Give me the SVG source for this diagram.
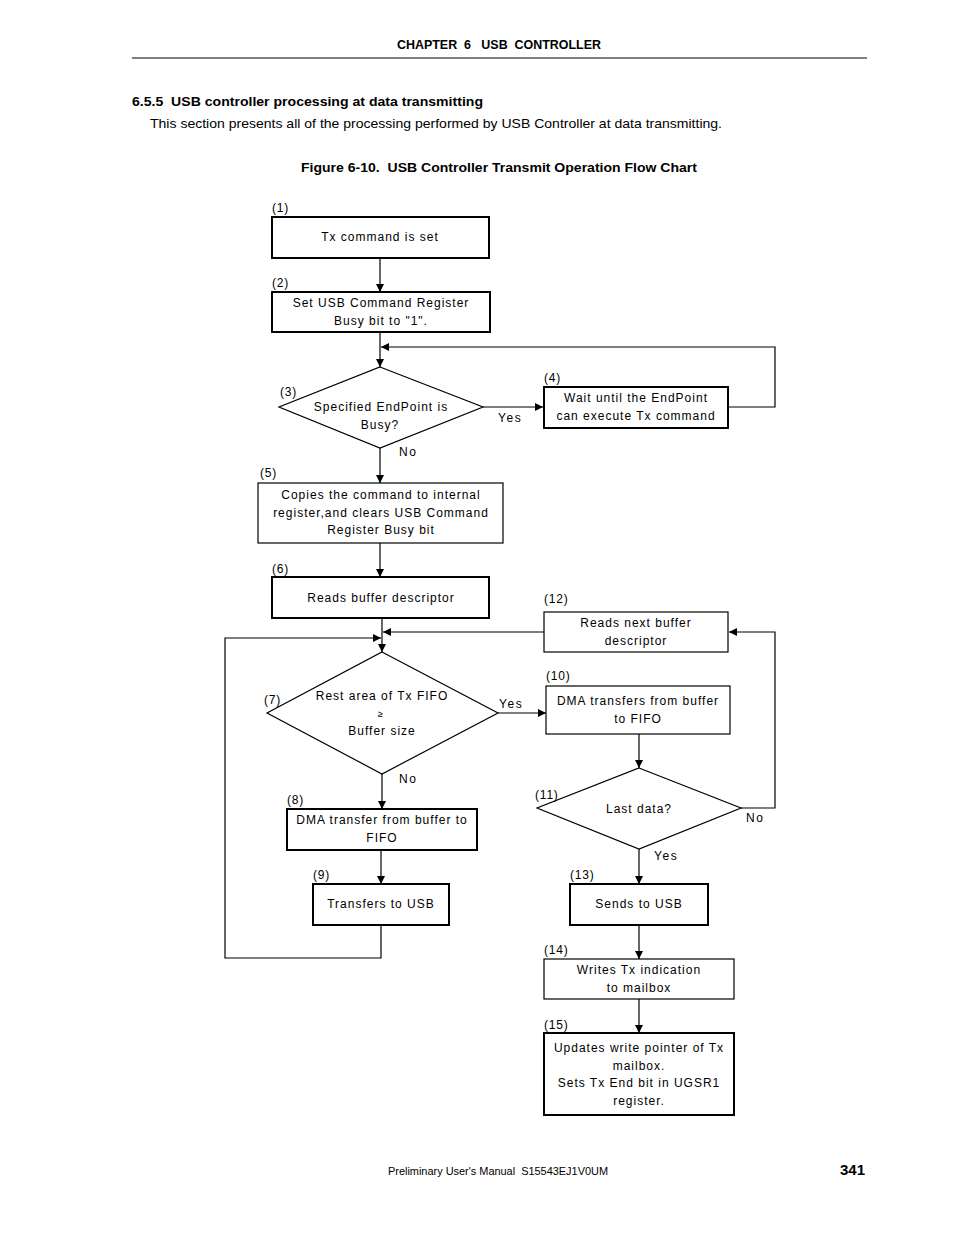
<svg xmlns="http://www.w3.org/2000/svg" width="954" height="1235" viewBox="0 0 954 1235">
<style>
.bg{fill:#fff}
.hd{font-family:"Liberation Sans",Arial,sans-serif;fill:#000;white-space:pre}
.t{font-family:"Liberation Sans",Arial,sans-serif;font-size:12px;letter-spacing:1px;fill:#000;text-anchor:middle}
.n{font-family:"Liberation Sans",Arial,sans-serif;font-size:12px;letter-spacing:0.8px;fill:#000}
.y{font-family:"Liberation Sans",Arial,sans-serif;font-size:12px;letter-spacing:1.6px;fill:#000}
.b1{fill:#fff;stroke:#000;stroke-width:1.2}
.b2{fill:#fff;stroke:#000;stroke-width:2}
.c{fill:none;stroke:#000;stroke-width:1.2}
</style>
<defs>
<marker id="ah" viewBox="0 0 10 10" refX="10" refY="5" markerWidth="8" markerHeight="8" markerUnits="userSpaceOnUse" orient="auto">
<path d="M0,0 L10,5 L0,10 z" fill="#000"/>
</marker>
</defs>
<rect class="bg" x="0" y="0" width="954" height="1235"/>
<g id="header">
<text class="hd" x="499" y="49" font-size="12" font-weight="bold" text-anchor="middle" textLength="204" lengthAdjust="spacingAndGlyphs" xml:space="preserve">CHAPTER  6   USB  CONTROLLER</text>
<line x1="132" y1="58" x2="867" y2="58" stroke="#000" stroke-width="1"/>
<text class="hd" x="132" y="106" font-size="13" font-weight="bold" textLength="351" lengthAdjust="spacingAndGlyphs" xml:space="preserve">6.5.5  USB controller processing at data transmitting</text>
<text class="hd" x="150" y="128" font-size="13.5" textLength="572" lengthAdjust="spacingAndGlyphs">This section presents all of the processing performed by USB Controller at data transmitting.</text>
<text class="hd" x="301" y="172" font-size="13.5" font-weight="bold" textLength="396" lengthAdjust="spacingAndGlyphs" xml:space="preserve">Figure 6-10.  USB Controller Transmit Operation Flow Chart</text>
</g>
<g id="connectors">
<line class="c" x1="380" y1="258" x2="380" y2="292" marker-end="url(#ah)"/>
<line class="c" x1="380" y1="332" x2="380" y2="367" marker-end="url(#ah)"/>
<polyline class="c" points="728,407 775,407 775,347 381,347" marker-end="url(#ah)"/>
<line class="c" x1="483" y1="407" x2="543" y2="407" marker-end="url(#ah)"/>
<line class="c" x1="380" y1="448" x2="380" y2="483" marker-end="url(#ah)"/>
<line class="c" x1="380" y1="543" x2="380" y2="577" marker-end="url(#ah)"/>
<line class="c" x1="382" y1="618" x2="382" y2="652" marker-end="url(#ah)"/>
<line class="c" x1="544" y1="632" x2="383" y2="632" marker-end="url(#ah)"/>
<polyline class="c" points="381,925 381,958 225,958 225,638 381,638" marker-end="url(#ah)"/>
<line class="c" x1="498" y1="713" x2="546" y2="713" marker-end="url(#ah)"/>
<line class="c" x1="382" y1="774" x2="382" y2="809" marker-end="url(#ah)"/>
<line class="c" x1="381" y1="850" x2="381" y2="884" marker-end="url(#ah)"/>
<line class="c" x1="639" y1="734" x2="639" y2="768" marker-end="url(#ah)"/>
<polyline class="c" points="741,808 775,808 775,632 729,632" marker-end="url(#ah)"/>
<line class="c" x1="639" y1="849" x2="639" y2="884" marker-end="url(#ah)"/>
<line class="c" x1="639" y1="925" x2="639" y2="959" marker-end="url(#ah)"/>
<line class="c" x1="639" y1="999" x2="639" y2="1033" marker-end="url(#ah)"/>
<text class="y" x="498" y="422">Yes</text>
<text class="y" x="399" y="456">No</text>
<text class="y" x="499" y="708">Yes</text>
<text class="y" x="399" y="783">No</text>
<text class="y" x="746" y="822">No</text>
<text class="y" x="654" y="860">Yes</text>
</g>
<g id="n1">
<rect class="b2" x="272" y="217" width="217" height="41"/>
<text class="n" x="272" y="212">(1)</text>
<text class="t" x="380" y="241">Tx command is set</text>
</g>
<g id="n2">
<rect class="b2" x="272" y="292" width="218" height="40"/>
<text class="n" x="272" y="287">(2)</text>
<text class="t" x="381" y="307">Set USB Command Register</text>
<text class="t" x="381" y="325">Busy bit to "1".</text>
</g>
<g id="n3">
<polygon class="b1" points="380,367 483,407 380,448 279,407"/>
<text class="n" x="280" y="396">(3)</text>
<text class="t" x="381" y="411">Specified EndPoint is</text>
<text class="t" x="380" y="429">Busy?</text>
</g>
<g id="n4">
<rect class="b2" x="544" y="387" width="184" height="41"/>
<text class="n" x="544" y="382">(4)</text>
<text class="t" x="636" y="402">Wait until the EndPoint</text>
<text class="t" x="636" y="420">can execute Tx command</text>
</g>
<g id="n5">
<rect class="b1" x="258" y="483" width="245" height="60"/>
<text class="n" x="260" y="477">(5)</text>
<text class="t" x="381" y="499">Copies the command to internal</text>
<text class="t" x="381" y="517">register,and clears USB Command</text>
<text class="t" x="381" y="534">Register Busy bit</text>
</g>
<g id="n6">
<rect class="b2" x="272" y="577" width="217" height="41"/>
<text class="n" x="272" y="573">(6)</text>
<text class="t" x="381" y="602">Reads buffer descriptor</text>
</g>
<g id="n12">
<rect class="b1" x="544" y="612" width="184" height="40"/>
<text class="n" x="544" y="603">(12)</text>
<text class="t" x="636" y="627">Reads next buffer</text>
<text class="t" x="636" y="645">descriptor</text>
</g>
<g id="n7">
<polygon class="b1" points="382,652 498,713 382,774 267,713"/>
<text class="n" x="264" y="704">(7)</text>
<text class="t" x="382" y="700">Rest area of Tx FIFO</text>
<text class="t" x="381" y="717" style="font-size:9px">≥</text>
<text class="t" x="382" y="735">Buffer size</text>
</g>
<g id="n10">
<rect class="b1" x="546" y="686" width="184" height="48"/>
<text class="n" x="546" y="680">(10)</text>
<text class="t" x="638" y="705">DMA transfers from buffer</text>
<text class="t" x="638" y="723">to FIFO</text>
</g>
<g id="n11">
<polygon class="b1" points="639,768 741,808 639,849 537,808"/>
<text class="n" x="535" y="799">(11)</text>
<text class="t" x="639" y="813">Last data?</text>
</g>
<g id="n8">
<rect class="b2" x="287" y="809" width="190" height="41"/>
<text class="n" x="287" y="804">(8)</text>
<text class="t" x="382" y="824">DMA transfer from buffer to</text>
<text class="t" x="382" y="842">FIFO</text>
</g>
<g id="n9">
<rect class="b2" x="313" y="884" width="136" height="41"/>
<text class="n" x="313" y="879">(9)</text>
<text class="t" x="381" y="908">Transfers to USB</text>
</g>
<g id="n13">
<rect class="b2" x="570" y="884" width="138" height="41"/>
<text class="n" x="570" y="879">(13)</text>
<text class="t" x="639" y="908">Sends to USB</text>
</g>
<g id="n14">
<rect class="b1" x="544" y="959" width="190" height="40"/>
<text class="n" x="544" y="954">(14)</text>
<text class="t" x="639" y="974">Writes Tx indication</text>
<text class="t" x="639" y="992">to mailbox</text>
</g>
<g id="n15">
<rect class="b2" x="544" y="1033" width="190" height="82"/>
<text class="n" x="544" y="1029">(15)</text>
<text class="t" x="639" y="1052">Updates write pointer of Tx</text>
<text class="t" x="639" y="1070">mailbox.</text>
<text class="t" x="639" y="1087">Sets Tx End bit in UGSR1</text>
<text class="t" x="639" y="1105">register.</text>
</g>
<g id="footer">
<text class="hd" x="498" y="1175" font-size="11" text-anchor="middle" textLength="220" lengthAdjust="spacingAndGlyphs" xml:space="preserve">Preliminary User's Manual  S15543EJ1V0UM</text>
<text class="hd" x="865" y="1175" font-size="15" font-weight="bold" text-anchor="end">341</text>
</g>
</svg>
